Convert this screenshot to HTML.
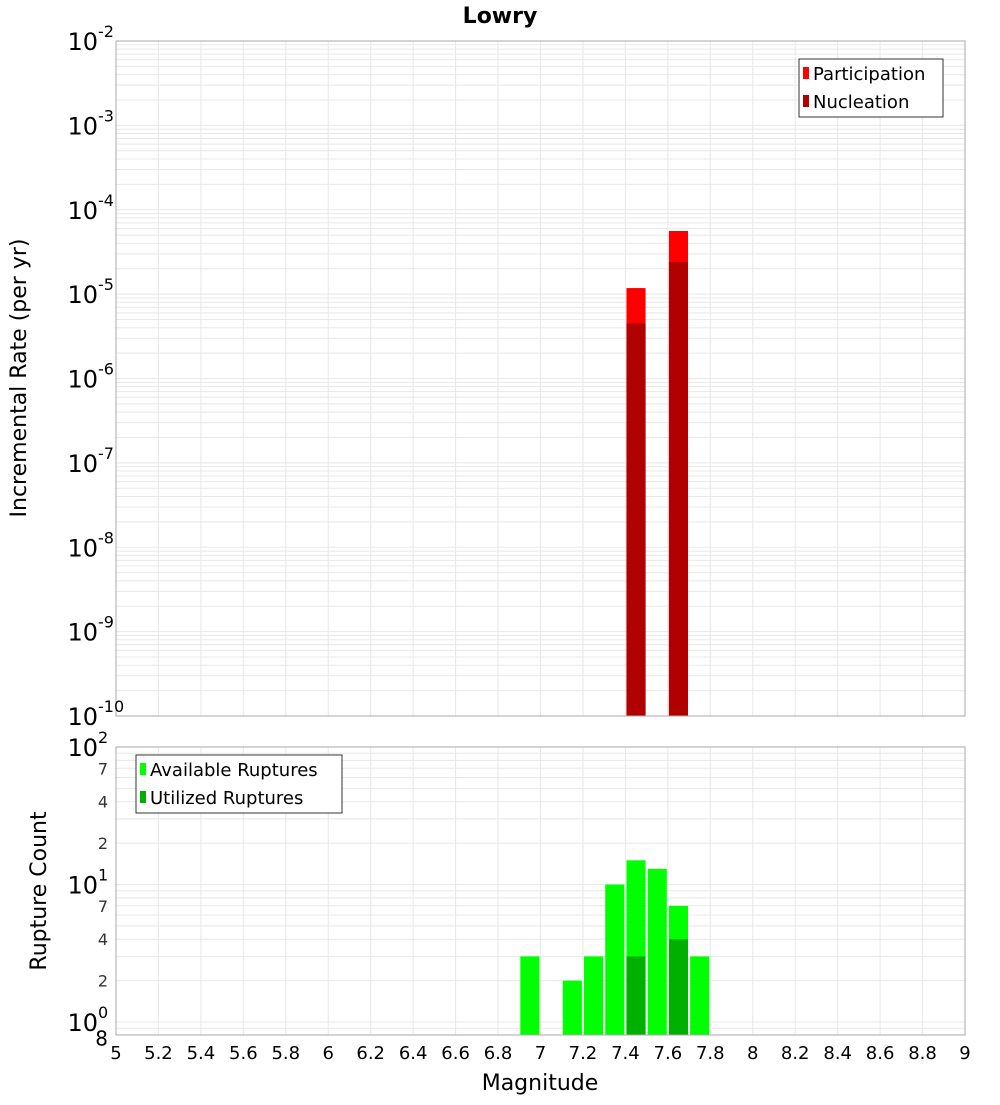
<!DOCTYPE html>
<html><head><meta charset="utf-8"><style>
body{margin:0;background:#fff;font-family:"Liberation Sans","DejaVu Sans",sans-serif;}
svg text{font-family:"DejaVu Sans","Liberation Sans",sans-serif;}
</style></head><body>
<svg id="c" width="1000" height="1100" xmlns="http://www.w3.org/2000/svg">
<text x="500" y="23" text-anchor="middle" font-size="22" font-weight="bold">Lowry</text>
<text transform="translate(26,378) rotate(-90)" text-anchor="middle" font-size="22">Incremental Rate (per yr)</text>
<text transform="translate(46,891) rotate(-90)" text-anchor="middle" font-size="22">Rupture Count</text>
<text x="540" y="1090" text-anchor="middle" font-size="22">Magnitude</text>
</svg>
<script>
const xTicks=[5,5.2,5.4,5.6,5.8,6,6.2,6.4,6.6,6.8,7,7.2,7.4,7.6,7.8,8,8.2,8.4,8.6,8.8,9];
const rateMags=[7.45,7.65];
const participation=[1.18e-5,5.6e-5];
const nucleation=[4.5e-6,2.4e-5];
const countMags=[6.95,7.15,7.25,7.35,7.45,7.55,7.65,7.75];
const available=[3,2,3,10,15,13,7,3];
const utilizedMags=[7.45,7.65];
const utilized=[3,4];
const topExps=[-2,-3,-4,-5,-6,-7,-8,-9,-10];
const botMinor=[2,4,7];

const NS="http://www.w3.org/2000/svg";
const svg=document.getElementById('c');
const X0=116,X1=965;
const xs=m=>X0+(m-5)/4*(X1-X0);
const T0=41,T1=716;
const yTop=v=>T0+(-2-Math.log10(v))/8*(T1-T0);
const B0=747,B1=1035,BD=137.5;
const yBot=v=>1022-Math.log10(v)*BD;
function el(t,a,p){const e=document.createElementNS(NS,t);for(const k in a)e.setAttribute(k,a[k]);(p||svg).appendChild(e);return e;}

// top grid
for(let d=-10;d<-2;d++){for(let k=1;k<10;k++){const y=yTop(k*Math.pow(10,d));if(y<T0||y>T1)continue;
const l=el('line',{x1:X0,x2:X1,y1:y,y2:y,stroke:'#e8e8e8','stroke-width':1});

}}
// bottom grid
for(let d=-1;d<2;d++){for(let k=1;k<10;k++){const y=yBot(k*Math.pow(10,d));if(y<B0||y>B1)continue;
const l=el('line',{x1:X0,x2:X1,y1:y,y2:y,stroke:'#e8e8e8','stroke-width':1});

}}
xTicks.forEach(m=>{const x=xs(m);
[[T0,T1],[B0,B1]].forEach(r=>{const l=el('line',{x1:x,x2:x,y1:r[0],y2:r[1],stroke:'#e8e8e8'});

});
const t=el('text',{x:x,y:1059,'text-anchor':'middle','font-size':18});t.textContent=String(m);

});

const bw=xs(0.09+5)-X0;
// top bars
rateMags.forEach((m,i)=>{
const r1=el('rect',{x:xs(m)-bw/2,y:yTop(participation[i]),width:bw,height:T1-yTop(participation[i]),fill:'#ff0000'});


const r2=el('rect',{x:xs(m)-bw/2,y:yTop(nucleation[i]),width:bw,height:T1-yTop(nucleation[i]),fill:'#b00000'});

});
countMags.forEach((m,i)=>{
const r=el('rect',{x:xs(m)-bw/2,y:yBot(available[i]),width:bw,height:B1-yBot(available[i]),fill:'#00ff00'});

});
utilizedMags.forEach((m,i)=>{
const r=el('rect',{x:xs(m)-bw/2,y:yBot(utilized[i]),width:bw,height:B1-yBot(utilized[i]),fill:'#00b000'});

});

// frames
[[T0,T1,'top-plot-frame'],[B0,B1,'bottom-plot-frame']].forEach(r=>{
const f=el('rect',{x:X0,y:r[0],width:X1-X0,height:r[1]-r[0],fill:'none',stroke:'#aaa'});

});

function pow10(x,y,e,name){const t=el('text',{x:x,y:y,'text-anchor':'end','font-size':24});


t.textContent='10';const s=el('text',{x:x,y:y-13,'font-size':16},svg);s.textContent=String(e);

}
topExps.forEach(e=>{pow10(98,yTop(Math.pow(10,e))+9,e,'top-y-tick-label');});
[2,1,0].forEach(e=>{pow10(98,yBot(Math.pow(10,e))+9,e,'bottom-y-tick-label');});
[1,10].forEach(base=>botMinor.forEach(k=>{const t=el('text',{x:108,y:yBot(k*base)+6,'text-anchor':'end','font-size':16,fill:'#333'});t.textContent=String(k);

}));
{const t=el('text',{x:108,y:yBot(0.8)+10,'text-anchor':'end','font-size':20});t.textContent='8';

}

function legend(x,y,w,h,items,name){const g=el('g',{});


el('rect',{x:x,y:y,width:w,height:h,fill:'#fff',stroke:'#333'},g);
items.forEach((it,i)=>{const cy=y+14+i*28;
const r=el('rect',{x:x+4,y:cy-6,width:6,height:12,fill:it[1]},g);
const t=el('text',{x:x+14,y:cy+7,'font-size':18},g);t.textContent=it[0];

});}
legend(799,59,144,58,[['Participation','#ff0000'],['Nucleation','#b00000']],'top-legend');
legend(136,755,206,58,[['Available Ruptures','#00ff00'],['Utilized Ruptures','#00b000']],'bottom-legend');
</script>
</body></html>
